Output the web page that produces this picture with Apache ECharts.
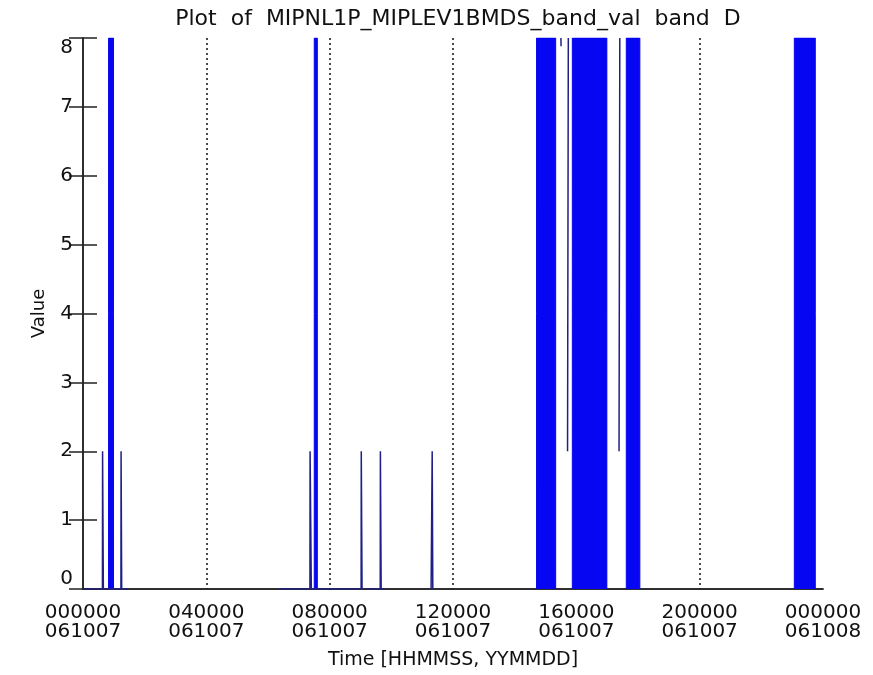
<!DOCTYPE html>
<html>
<head>
<meta charset="utf-8">
<title>MIPNL1P band D</title>
<script src="https://cdn.jsdelivr.net/npm/echarts@6/dist/echarts.min.js"></script>
<style>
  html, body { margin: 0; padding: 0; background: #fff; }
  #chart { width: 873px; height: 675px; }
</style>
</head>
<body>
<div id="chart"></div>
<script>
// tick labels of the time axis, one every 4 hours
const timeLabels = ['000000', '040000', '080000', '120000', '160000', '200000', '000000'];
const dateLabels = ['061007', '061007', '061007', '061007', '061007', '061007', '061008'];

// stretches where the value flips 0 <-> 8 so fast it draws as a solid band (hours after 000000)
const blockStart = [0.83, 7.50, 14.71, 15.87, 17.62, 23.07];
const blockEnd   = [0.99, 7.60, 15.33, 16.99, 18.06, 23.75];

// the thin trace, null = no data (gap)
const traceHours = [
  0.00, 0.63, 0.635, 0.655, 0.66, 1.23, 1.235, 1.25, 1.255, 1.44, null,
  6.34, 7.36, 7.365, 7.40, 7.405, 9.02, 9.025, 9.045, 9.05, null,
  9.15, 9.64, 9.645, 9.665, 9.67, 9.79, null,
  11.29, 11.32, 11.325, 11.34, 11.345, 11.37, null,
  15.50, 15.505, null,
  15.715, 15.735, 15.74, null,
  17.385, 17.405, 17.41, null
];
const traceValues = [
  0, 0, 2, 2, 0, 0, 2, 2, 0, 0, null,
  0, 0, 2, 2, 0, 0, 2, 2, 0, null,
  0, 0, 2, 2, 0, 0, null,
  0, 0, 2, 2, 0, 0, null,
  8, 7.88, null,
  2, 2, 8, null,
  2, 2, 8, null
];

const FONT = 'DejaVu Sans';

const blockData = [];
blockStart.forEach((s, i) => {
  const e = blockEnd[i];
  blockData.push([s, 0], [s, 8], [e, 8], [e, 0], [e, '-']);
});

const traceData = traceHours.map((h, i) =>
  traceValues[i] === null ? [traceHours[i - 1], '-'] : [h, traceValues[i]]
);

const chart = echarts.init(document.getElementById('chart'));

const option = {
  animation: false,
  backgroundColor: '#fff',
  title: {
    text: 'Plot  of  MIPNL1P_MIPLEV1BMDS_band_val  band  D',
    left: 453,
    textAlign: 'center',
    top: 3,
    textStyle: { fontFamily: FONT, fontSize: 22, fontWeight: 'normal', color: '#111' }
  },
  grid: { left: 83, right: 50, top: 38, bottom: 86, outerBoundsMode: 'none' },
  xAxis: [
    {
      type: 'value',
      min: 0,
      max: 24,
      interval: 4,
      name: 'Time [HHMMSS, YYMMDD]',
      nameLocation: 'middle',
      nameGap: 62,
      nameTextStyle: { fontFamily: FONT, fontSize: 19, color: '#111' },
      axisLine: { lineStyle: { color: '#222', width: 1.5 } },
      axisTick: { show: false },
      axisLabel: {
        fontFamily: FONT,
        fontSize: 20,
        lineHeight: 19,
        color: '#111',
        margin: 14,
        showMinLabel: true,
        showMaxLabel: true,
        formatter: (v) => {
          const i = Math.round(v / 4);
          return timeLabels[i] + '\n' + dateLabels[i];
        }
      },
      splitLine: {
        show: true,
        showMinLine: false,
        showMaxLine: false,
        lineStyle: { color: '#111', type: [2, 3], width: 1.5 }
      }
    },
    {
      type: 'value',
      position: 'top',
      min: 0,
      max: 24,
      axisLine: { show: true, lineStyle: { color: '#222', width: 1.5 } },
      axisTick: { show: false },
      axisLabel: { show: false },
      splitLine: { show: false }
    }
  ],
  yAxis: [
    {
      type: 'value',
      min: 0,
      max: 8,
      interval: 1,
      name: 'Value',
      nameLocation: 'middle',
      nameGap: 35,
      nameTextStyle: { fontFamily: FONT, fontSize: 18, color: '#111' },
      axisLine: { show: true, lineStyle: { color: '#222', width: 1.5 } },
      axisTick: { show: true, inside: true, length: 14, lineStyle: { color: '#222', width: 1.5 } },
      axisLabel: {
        fontFamily: FONT,
        fontSize: 20,
        color: '#111',
        margin: 10,
        verticalAlignMinLabel: 'bottom',
        verticalAlignMaxLabel: 'top'
      },
      splitLine: { show: false }
    },
    {
      type: 'value',
      position: 'right',
      min: 0,
      max: 8,
      interval: 1,
      axisLine: { show: true, lineStyle: { color: '#222', width: 1.5 } },
      axisTick: { show: true, inside: true, length: 14, lineStyle: { color: '#222', width: 1.5 } },
      axisLabel: { show: false },
      splitLine: { show: false }
    }
  ],
  series: [
    {
      name: 'bands',
      type: 'line',
      data: blockData,
      symbol: 'none',
      connectNulls: false,
      lineStyle: { color: '#0606ee', width: 1 },
      areaStyle: { color: '#0606f2', opacity: 1 },
      z: 3
    },
    {
      name: 'trace',
      type: 'line',
      data: traceData,
      symbol: 'none',
      connectNulls: false,
      lineStyle: { color: '#1f1f86', width: 1.5 },
      z: 4
    }
  ]
};

chart.setOption(option);
</script>
</body>
</html>
